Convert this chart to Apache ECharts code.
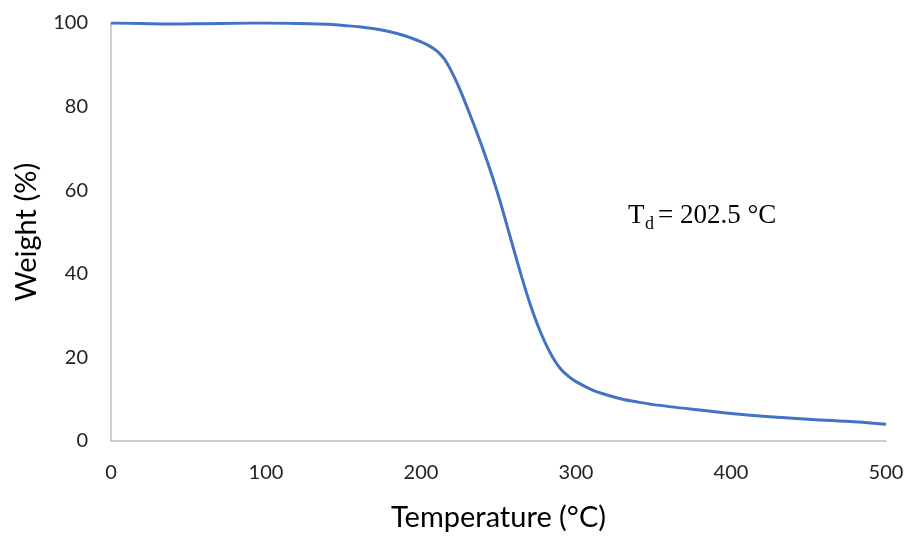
<!DOCTYPE html>
<html>
<head>
<meta charset="utf-8">
<script src="https://cdn.jsdelivr.net/npm/echarts@6/dist/echarts.min.js"></script>
<style>html,body{margin:0;padding:0;background:#fff;}#c{width:909px;height:537px;}</style>
</head>
<body>
<div id="c"></div>
<script>
const temperature = [0, 20, 40, 60, 80, 100, 120, 140, 150, 160, 170, 180, 190, 200, 205, 210, 215, 220, 225, 230, 235, 240, 245, 250, 255, 260, 265, 270, 275, 280, 285, 290, 295, 300, 310, 320, 330, 340, 350, 375, 400, 425, 450, 475, 500];
const weight = [100, 99.9, 99.75, 99.85, 99.95, 100, 99.9, 99.7, 99.4, 99.1, 98.6, 97.9, 96.9, 95.5, 94.6, 93.4, 91.4, 88.2, 84.2, 79.6, 74.8, 69.8, 64.4, 58.6, 52.2, 45.6, 39.2, 33.2, 28.0, 23.6, 20.0, 17.3, 15.5, 14.2, 12.3, 11.0, 10.0, 9.3, 8.7, 7.6, 6.6, 5.8, 5.2, 4.7, 4.0];
const xTicks = [0, 100, 200, 300, 400, 500];
const yTicks = [0, 20, 40, 60, 80, 100];
const xName = 'Temperature (°C)';
const yName = 'Weight (%)';
const tdMain = 'T';
const tdSub = 'd';
const tdRest = '= 202.5 °C';

const chart = echarts.init(document.getElementById('c'));
chart.setOption({
  backgroundColor: '#fff',
  animation: false,
  grid: {left: 111, right: 23, top: 23, bottom: 93},
  xAxis: {
    type: 'value', min: xTicks[0], max: xTicks[xTicks.length-1], interval: 100,
    name: xName, nameLocation: 'middle', nameGap: 62,
    nameTextStyle: {fontFamily: 'Lato', fontSize: 29, color: '#000'},
    axisLine: {lineStyle: {color: '#BFBFBF', width: 1.5}},
    axisTick: {show: false}, splitLine: {show: false},
    axisLabel: {fontFamily: 'Lato', fontSize: 20, color: '#222', margin: 22}
  },
  yAxis: {
    type: 'value', min: yTicks[0], max: yTicks[yTicks.length-1], interval: 20,
    name: yName, nameLocation: 'middle', nameGap: 70,
    nameTextStyle: {fontFamily: 'Lato', fontSize: 29, color: '#000'},
    axisLine: {show: true, lineStyle: {color: '#BFBFBF', width: 1.5}},
    axisTick: {show: false}, splitLine: {show: false},
    axisLabel: {fontFamily: 'Lato', fontSize: 20, color: '#222', margin: 23}
  },
  series: [{
    type: 'line', data: temperature.map((t, i) => [t, weight[i]]),
    smooth: 0.3, showSymbol: false,
    lineStyle: {color: '#4472C4', width: 3}
  }],
  graphic: [
    {type: 'text', x: 628, y: 216, style: {text: tdMain, fontFamily: 'Liberation Serif', fontSize: 27, fill: '#000', verticalAlign: 'middle'}},
    {type: 'text', x: 645, y: 224, style: {text: tdSub, fontFamily: 'Liberation Serif', fontSize: 18, fill: '#000', verticalAlign: 'middle'}},
    {type: 'text', x: 658, y: 216, style: {text: tdRest, fontFamily: 'Liberation Serif', fontSize: 27, fill: '#000', verticalAlign: 'middle'}}
  ]
});
</script>
</body>
</html>
